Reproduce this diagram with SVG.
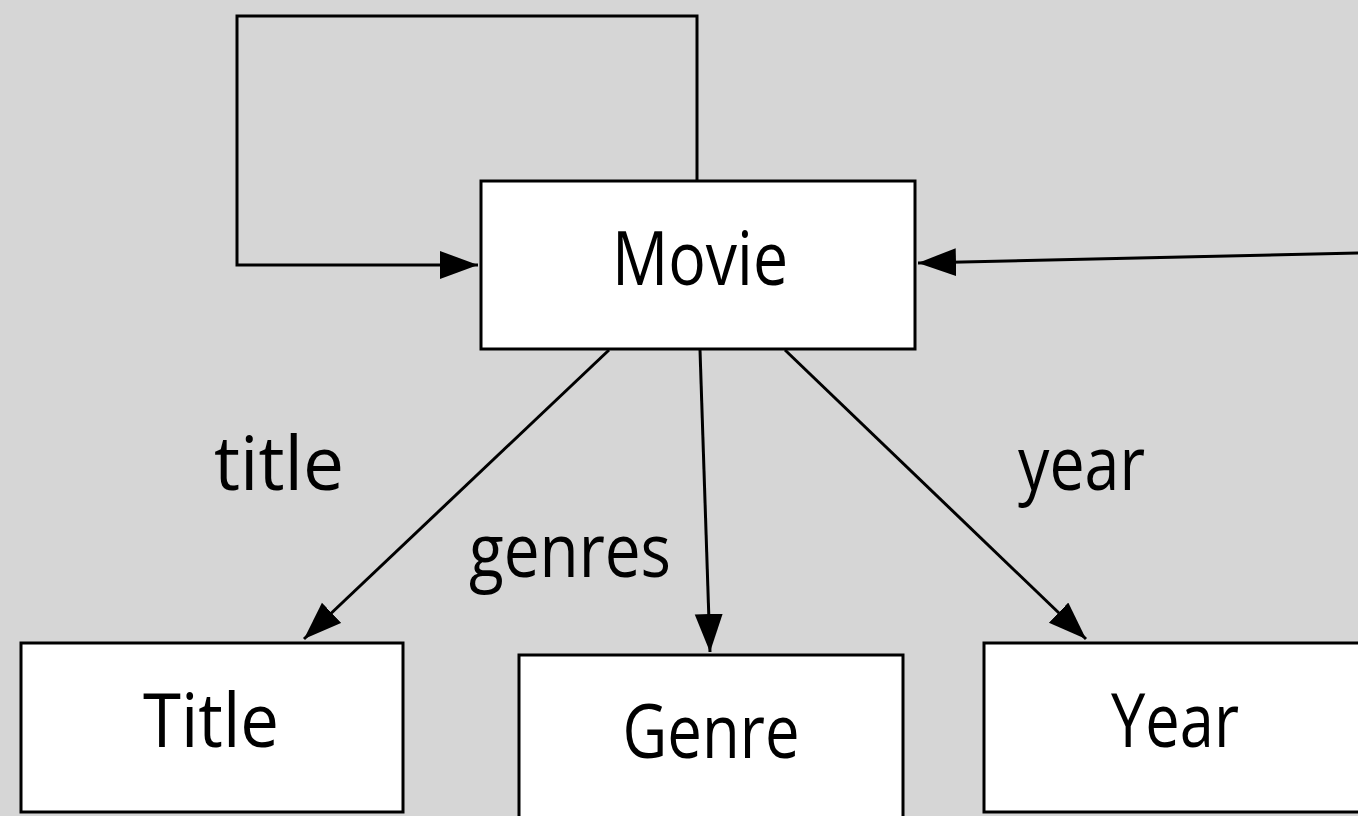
<svg xmlns="http://www.w3.org/2000/svg" width="1358" height="816" viewBox="0 0 1358 816">
<defs>
<marker id="arr" markerUnits="userSpaceOnUse" markerWidth="40" markerHeight="30" refX="38" refY="14" orient="auto">
<path d="M0,0 L38,14 L0,28 Z" fill="#000"/>
</marker>
<style>
.node{fill:#fff;stroke:#000;stroke-width:3}
.edge{fill:none;stroke:#000;stroke-width:3;marker-end:url(#arr)}
text{font-family:"Open Sans","Noto Sans",sans-serif;font-size:75px;fill:#000}
.c{text-anchor:middle}
</style>
</defs>
<rect width="1358" height="816" fill="#d6d6d6"/>
<g id="connectors">
<path class="edge" d="M697,181 L697,16 L237,16 L237,265 L478,265"/>
<path class="edge" d="M1358,253 L918,263"/>
<path class="edge" d="M609,350 L304,639"/>
<path class="edge" d="M700,350 L710,652"/>
<path class="edge" d="M785,350 L1086,639"/>
</g>
<g id="labels">
<text x="214" y="490" textLength="130" lengthAdjust="spacingAndGlyphs">title</text>
<text x="469" y="577" textLength="202" lengthAdjust="spacingAndGlyphs">genres</text>
<text x="1018" y="490" textLength="127" lengthAdjust="spacingAndGlyphs">year</text>
</g>
<g id="movie">
<rect class="node" x="481" y="181" width="434" height="168"/>
<text class="c" x="700" y="285" textLength="176" lengthAdjust="spacingAndGlyphs">Movie</text>
</g>
<g id="title">
<rect class="node" x="21" y="643" width="382" height="169"/>
<text class="c" x="211" y="747" textLength="136" lengthAdjust="spacingAndGlyphs">Title</text>
</g>
<g id="genre">
<rect class="node" x="519" y="655" width="384" height="175"/>
<text class="c" x="711" y="758" textLength="177" lengthAdjust="spacingAndGlyphs">Genre</text>
</g>
<g id="year">
<rect class="node" x="984" y="643" width="390" height="169"/>
<text class="c" x="1175" y="747" textLength="128" lengthAdjust="spacingAndGlyphs">Year</text>
</g>
</svg>
